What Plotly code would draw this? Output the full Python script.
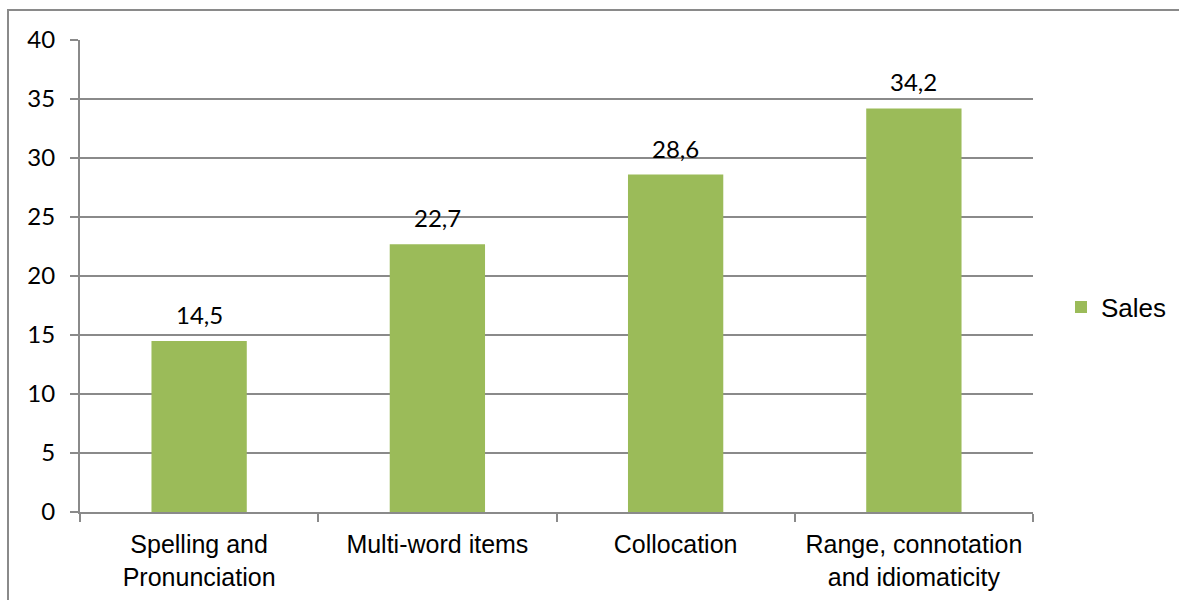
import plotly.graph_objects as go

categories = ["Spelling and<br>Pronunciation", "Multi-word items", "Collocation",
              "Range, connotation<br>and idiomaticity"]
values = [14.5, 22.7, 28.6, 34.2]
series_name = "Sales"
y_ticks = [0, 5, 10, 15, 20, 25, 30, 35, 40]

W, H = 1179, 600
L, R, T, B = 80, 146, 40, 88
pw, ph = W - L - R, H - T - B

fig = go.Figure()
fig.add_trace(go.Bar(
    x=categories, y=values, name=series_name,
    marker=dict(color="#9BBB59", line=dict(width=0)),
    width=0.4, showlegend=True,
))

for c, v in zip(categories, values):
    fig.add_annotation(x=c, y=v, text=f"{v:.1f}".replace(".", ","),
                       showarrow=False, yanchor="bottom", yshift=10,
                       font=dict(family="Lato", size=24, color="#000000"))

# outer border
fig.add_shape(type="rect", xref="paper", yref="paper",
              x0=(8 - L) / pw, x1=(W + 20 - L) / pw,
              y0=-(H + 20 - (H - B)) / ph, y1=((H - B) - 10) / ph,
              line=dict(color="#8a8a8a", width=2), fillcolor="rgba(0,0,0,0)", layer="above")

fig.update_layout(
    width=W, height=H,
    margin=dict(l=L, r=R, t=T, b=B, pad=0, autoexpand=False),
    paper_bgcolor="white", plot_bgcolor="white",
    bargap=0.6,
    showlegend=True,
    legend=dict(xref="container", yref="container",
                x=1061 / W, xanchor="left", y=(H - 307) / H, yanchor="middle",
                font=dict(family="Liberation Sans, Arial", size=26, color="#000000"),
                itemwidth=30, bgcolor="rgba(0,0,0,0)"),
    xaxis=dict(
        showline=True, linecolor="#8a8a8a", linewidth=2,
        ticks="outside", tickson="boundaries", ticklen=8, tickcolor="#8a8a8a", tickwidth=2,
        tickfont=dict(family="Liberation Sans, Arial", size=25, color="#000000"),
        showgrid=False, fixedrange=True, ticklabelstandoff=9, automargin=False,
    ),
    yaxis=dict(
        range=[0, 40], tickvals=y_ticks, ticktext=[str(t) for t in y_ticks],
        showline=True, linecolor="#8a8a8a", linewidth=2,
        ticks="outside", ticklen=8, tickcolor="#8a8a8a", tickwidth=2,
        showgrid=True, gridcolor="#8a8a8a", gridwidth=1.5,
        zeroline=False, automargin=False,
        tickfont=dict(family="Lato", size=24, color="#000000"),
        ticklabelstandoff=10,
    ),
)

fig.write_html("out.html")
